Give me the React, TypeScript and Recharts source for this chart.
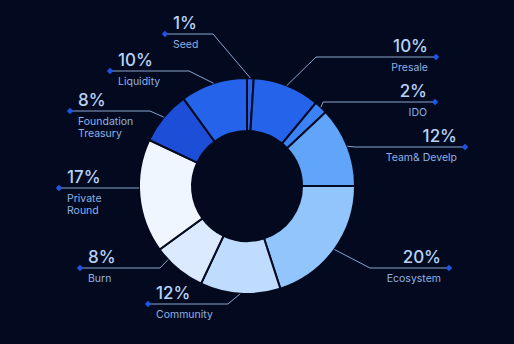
import { PieChart, Pie, Cell } from "recharts";

const categories = [
  "Seed",
  "Presale",
  "IDO",
  "Team& Develp",
  "Ecosystem",
  "Community",
  "Burn",
  "Private Round",
  "Foundation Treasury",
  "Liquidity",
];
const shares = [1, 10, 2, 12, 20, 12, 8, 17, 8, 10];
const nameLines = [
  ["Seed"],
  ["Presale"],
  ["IDO"],
  ["Team& Develp"],
  ["Ecosystem"],
  ["Community"],
  ["Burn"],
  ["Private", "Round"],
  ["Foundation", "Treasury"],
  ["Liquidity"],
];

const sliceColors = [
  "#2563eb",
  "#2563eb",
  "#3b82f6",
  "#60a5fa",
  "#93c5fd",
  "#bfdbfe",
  "#dbeafe",
  "#eff6ff",
  "#1d4ed8",
  "#2563eb",
];

// where each leader line goes: elbow x, line y, end dot x
const leaders = [
  { side: "left", elbowX: 213, lineY: 34, dotX: 165 },
  { side: "right", elbowX: 316, lineY: 57, dotX: 436 },
  { side: "right", elbowX: 323, lineY: 102, dotX: 435 },
  { side: "right", elbowX: 355, lineY: 147, dotX: 465 },
  { side: "right", elbowX: 370, lineY: 268, dotX: 449 },
  { side: "left", elbowX: 228, lineY: 304, dotX: 148 },
  { side: "left", elbowX: 160, lineY: 268, dotX: 80, anchor: 223 },
  { side: "left", elbowX: 139, lineY: 188, dotX: 59, anchor: 181 },
  { side: "left", elbowX: 150, lineY: 111, dotX: 70 },
  { side: "left", elbowX: 189, lineY: 71, dotX: 110 },
];

const data = categories.map((name, i) => ({ name, value: shares[i] }));

const RAD = Math.PI / 180;
const BG = "#030a1f";

function renderLabel(props: any) {
  const { cx, cy, midAngle, outerRadius, index } = props;
  const l = leaders[index];
  const ang = (l.anchor ?? midAngle) * RAD;
  const sx = cx + outerRadius * Math.cos(ang);
  const sy = cy - outerRadius * Math.sin(ang);
  const left = l.side === "left";
  const tx = left ? l.dotX + 8 : l.dotX - 8;
  const anchor = left ? "start" : "end";
  const d = 3.2;
  return (
    <g key={`lbl-${index}`}>
      <polyline
        points={`${sx},${sy} ${l.elbowX},${l.lineY} ${l.dotX},${l.lineY}`}
        fill="none"
        stroke="#8aa4cf"
        strokeWidth={1}
      />
      <polygon
        points={`${l.dotX - d},${l.lineY} ${l.dotX},${l.lineY - d} ${l.dotX + d},${l.lineY} ${l.dotX},${l.lineY + d}`}
        fill="#1f55e6"
      />
      <text
        x={tx}
        y={l.lineY - 5}
        textAnchor={anchor}
        fill="#b8d2f6"
        fontSize={17}
        fontWeight={500}
        fontFamily="Inter, sans-serif"
      >
        {`${shares[index]}%`}
      </text>
      {nameLines[index].map((t, j) => (
        <text
          key={t}
          x={tx}
          y={l.lineY + 14 + j * 12}
          textAnchor={anchor}
          fill="#8fb1e4"
          fontSize={10.5}
          fontFamily="Inter, sans-serif"
        >
          {t}
        </text>
      ))}
    </g>
  );
}

export default function App() {
  return (
    <div
      style={{
        position: "absolute",
        left: 0,
        top: 0,
        width: 514,
        height: 344,
        background: BG,
        overflow: "hidden",
      }}
    >
      <PieChart width={514} height={344} margin={{ top: 0, right: 0, bottom: 0, left: 0 }}>
        <Pie
          data={data}
          dataKey="value"
          nameKey="name"
          cx={247}
          cy={186}
          innerRadius={55}
          outerRadius={108}
          startAngle={90}
          endAngle={-270}
          stroke={BG}
          strokeWidth={2}
          label={renderLabel}
          labelLine={false}
          isAnimationActive={false}
        >
          {data.map((d, i) => (
            <Cell key={d.name} fill={sliceColors[i]} />
          ))}
        </Pie>
      </PieChart>
    </div>
  );
}
